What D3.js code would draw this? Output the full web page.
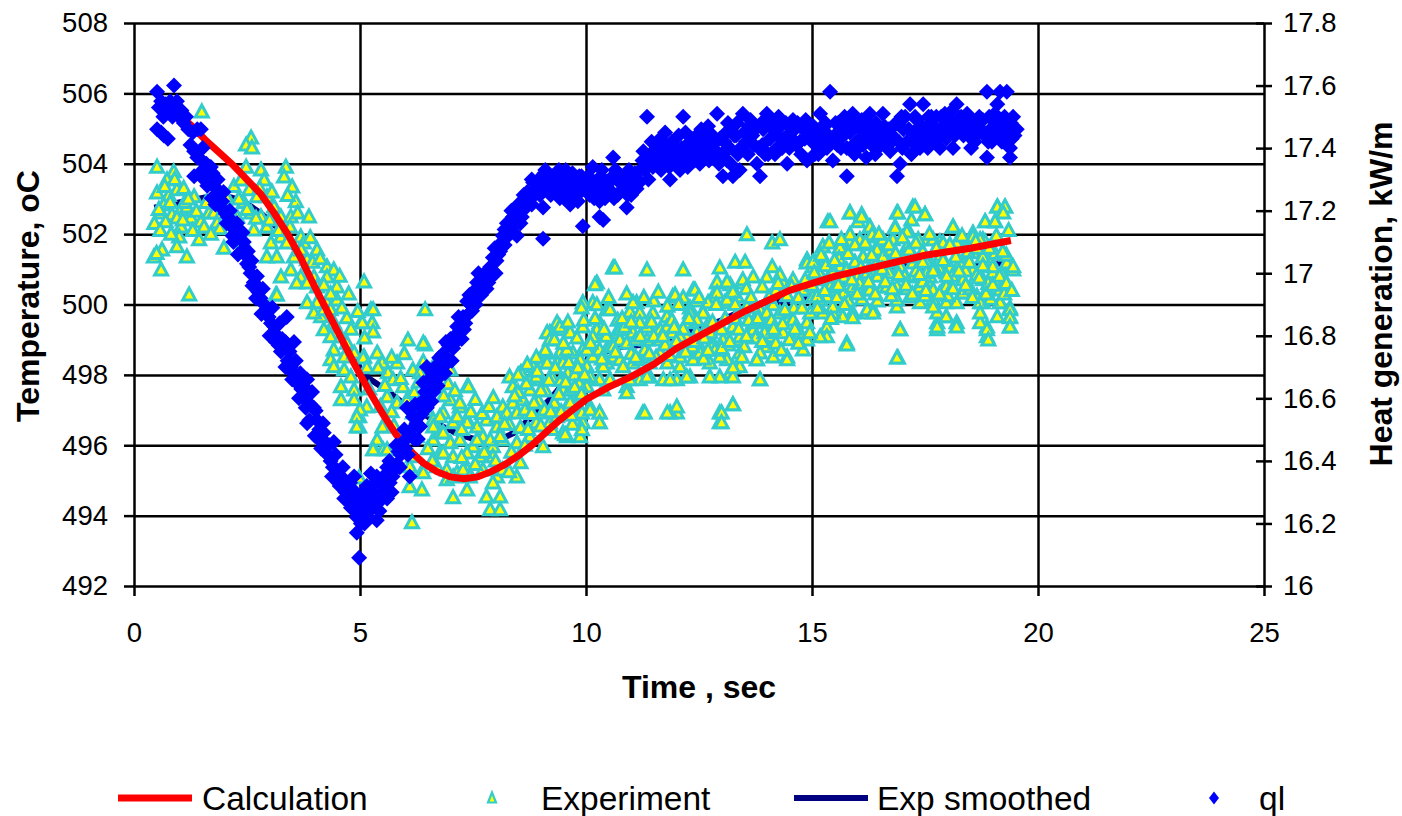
<!DOCTYPE html>
<html>
<head>
<meta charset="utf-8">
<script src="https://cdn.jsdelivr.net/npm/d3@7"></script>
<style>
  html, body { margin: 0; padding: 0; background: #fff; }
  svg { display: block; font-family: "Liberation Sans", Arial, sans-serif; }
</style>
</head>
<body>
<svg id="chart" width="1402" height="816"></svg>
<script>
// axis ticks
const timeTicks = [0, 5, 10, 15, 20, 25];
const tempTicks = [492, 494, 496, 498, 500, 502, 504, 506, 508];
const heatTicks = [16, 16.2, 16.4, 16.6, 16.8, 17, 17.2, 17.4, 17.6, 17.8];
const seriesNames = ["Calculation", "Experiment", "Exp smoothed", "ql"];

// Calculation: [time, temperature]
const calculation = [
  [1.0,505.4],[1.3,505.05],[1.6,504.65],[1.9,504.3],[2.2,503.95],[2.5,503.55],[2.8,503.15],
  [3.1,502.6],[3.4,502.0],[3.7,501.3],[4.0,500.5],[4.3,499.75],[4.6,499.0],[4.9,498.25],
  [5.2,497.55],[5.5,496.9],[5.8,496.3],[6.1,495.85],[6.4,495.5],[6.7,495.25],[7.0,495.1],
  [7.3,495.05],[7.6,495.1],[7.9,495.25],[8.2,495.45],[8.5,495.7],[8.8,496.0],[9.1,496.35],
  [9.4,496.7],[9.7,497.0],[10.0,497.3],[10.5,497.65],[11.0,497.95],[11.5,498.3],[12.0,498.75],
  [12.5,499.1],[13.0,499.45],[13.5,499.8],[14.0,500.1],[14.5,500.4],[15.0,500.6],[15.5,500.8],
  [16.0,500.95],[16.5,501.1],[17.0,501.25],[17.5,501.4],[18.0,501.5],[18.5,501.6],[19.0,501.72],
  [19.4,501.82]
];

// Exp smoothed: [time, temperature]
const expSmoothed = [
  [0.45,502.75],[0.8,502.85],[1.2,502.95],[1.6,503.05],[2.0,503.1],[2.4,502.95],[2.8,502.6],
  [3.2,502.15],[3.6,501.5],[4.0,500.5],[4.4,499.45],[4.8,498.5],[5.2,497.9],[5.6,497.55],
  [6.0,497.15],[6.4,496.9],[6.8,496.55],[7.2,496.3],[7.6,496.15],[8.0,496.1],[8.4,496.35],
  [8.8,496.8],[9.2,497.3],[9.6,497.9],[10.0,498.4],[10.4,498.65],[10.8,498.8],[11.2,498.85],
  [11.6,498.95],[12.0,499.1],[12.5,499.3],[13.0,499.55],[13.5,499.85],[14.0,500.1],[14.5,500.1],
  [15.0,500.2],[15.5,500.45],[16.0,500.75],[16.5,501.0],[17.0,501.15],[17.5,501.05],[18.0,500.95],
  [18.5,501.1],[19.0,501.15],[19.4,501.2]
];

// Experiment: [time, temperature]
const experiment = [
  [1.5,505.47],[0.51,503.9],[0.88,503.77],[0.73,503.54],[0.51,503.17],[0.77,503.1],[0.95,503.26],
  [1.1,503.3],[0.66,502.83],[0.6,502.6],[0.84,502.55],[1.04,502.69],[0.95,502.46],[1.17,502.77],
  [1.33,503.06],[1.26,502.46],[1.48,502.35],[1.66,502.6],[1.04,502.2],[1.0,501.92],[1.44,501.84],
  [0.62,501.55],[0.44,501.35],[0.95,501.64],[1.17,501.35],[0.6,500.98],[1.22,500.27],[1.99,501.6],
  [0.7,502.35],[0.55,502.7],[1.12,502.9],[0.8,502.9],[0.5,501.45],
  [2.59,504.73],[2.48,504.53],[2.61,504.45],[1.77,502.6],[1.6,502.9],[1.84,502.32],[2.21,503.35],
  [2.48,503.9],[2.37,503.54],[2.55,503.26],[2.81,503.82],[2.88,503.54],[3.36,503.9],[3.32,503.62],
  [3.5,503.34],[3.58,502.92],[2.72,503.06],[2.94,503.06],[2.59,502.6],[2.81,502.49],[2.43,502.9],
  [2.28,502.49],[2.21,502.32],[3.1,502.77],[3.25,502.49],[3.47,502.49],[3.87,502.49],[2.65,502.12],
  [2.94,502.2],[2.43,501.75],[3.03,501.75],[3.25,501.92],[3.38,501.75],[3.69,501.92],[3.76,501.75],
  [4.05,501.55],[2.94,501.35],[3.16,501.35],[3.54,501.35],[3.83,501.27],[4.27,501.07],[4.42,500.98],
  [3.47,500.98],[3.25,500.78],[3.69,500.78],[3.98,500.78],[4.27,500.78],[3.6,500.61],[3.83,500.61],
  [4.05,500.5],[4.49,500.5],[3.14,500.27],[3.83,500.05],[4.05,500.05],[4.27,500.05],[4.49,500.13],
  [5.09,500.64],[4.14,499.65],[4.42,499.48],[4.71,499.62],[5.02,499.48],[5.24,499.85],[4.2,499.28],
  [4.49,499.2],[2.05,503.05],[1.9,502.15],
  [3.98,499.76],[4.2,499.85],[4.35,499.85],[4.35,499.08],[4.58,499.08],[4.71,498.9],[4.42,498.71],
  [4.35,498.43],[4.42,498.23],[4.65,498.51],[4.87,498.62],[5.09,498.51],[4.65,498.14],[4.8,497.94],
  [4.58,497.66],[4.87,497.57],[4.58,497.29],[4.87,497.29],[5.15,497.09],[4.98,496.81],[4.98,496.52],
  [5.31,495.87],[4.98,495.07],
  [3.16,500.27],[5.29,499.85],[5.27,499.48],[5.29,499.22],[5.05,499.48],[6.44,499.85],[6.06,498.99],
  [6.44,498.85],[6.4,498.37],[5.07,498.48],[5.38,498.62],[5.49,498.34],[5.62,498.06],[5.82,498.34],
  [6.17,498.14],[6.33,498.06],[6.62,498.23],[7.0,498.14],[7.37,497.66],[7.0,497.29],[7.21,497.09],
  [5.73,497.86],[5.95,497.66],[5.6,497.38],[5.82,497.2],[6.04,497.29],[6.17,496.92],[6.48,497.0],
  [6.62,496.72],[6.84,496.92],[7.06,496.64],[7.37,496.72],[7.59,496.52],[7.8,496.72],[8.03,496.52],
  [5.0,497.0],[4.93,496.81],[4.93,496.52],[5.51,496.52],[5.38,496.15],[5.51,495.87],[5.29,495.87],
  [6.26,496.24],[6.62,496.15],[6.77,496.35],[7.0,496.07],[7.21,496.15],[7.5,495.96],[7.72,496.24],
  [7.94,495.96],[6.77,495.78],[7.06,495.67],[7.37,495.78],[7.65,495.67],[7.94,495.67],[6.17,495.67],
  [6.1,495.39],[6.37,495.24],[6.92,495.3],[7.15,495.22],[7.37,495.3],[6.92,495.02],[6.37,494.73],
  [7.06,494.51],[7.37,494.73],[6.15,493.8],
  [6.4,498.9],[7.4,497.66],[8.38,497.66],[8.76,497.86],[8.98,497.86],[9.2,499.2],[9.36,499.48],
  [9.49,499.28],[9.65,499.2],[9.14,498.62],[9.42,498.62],[9.71,498.62],[9.36,498.34],[9.93,498.71],
  [9.93,499.36],[10.15,500.05],[9.93,500.05],[10.46,499.85],[10.24,500.61],[10.6,501.04],[9.05,498.34],
  [8.9,497.94],[8.56,498.06],[8.76,497.57],[8.6,497.29],[8.38,497.2],[8.16,497.09],[8.03,496.81],
  [8.25,496.92],[8.47,496.92],[7.37,496.64],[7.15,496.81],[7.21,497.2],[6.77,496.81],[6.62,496.52],
  [6.84,496.35],[7.59,496.15],[7.88,496.15],[8.16,496.15],[8.47,496.07],[8.76,496.24],[9.05,495.96],
  [8.9,496.64],[9.2,496.64],[9.49,496.35],[9.05,496.92],[9.36,496.81],[9.58,497.09],[9.8,497.38],
  [9.49,497.57],[9.65,497.2],[9.87,496.92],[10.09,497.09],[10.3,496.92],[10.3,496.64],[9.93,496.64],
  [9.58,496.24],[9.87,496.24],[10.38,497.57],[10.53,497.86],[10.09,497.86],[10.38,498.34],[10.53,498.9],
  [10.68,499.2],[10.24,499.2],[10.3,499.48],[10.6,498.51],[10.15,498.51],[7.06,495.1],[7.28,495.3],
  [7.43,495.1],[7.72,495.3],[8.03,495.1],[8.16,495.3],[8.47,495.1],[7.94,494.93],[7.8,494.53],
  [8.1,494.53],[7.88,494.17],[8.1,494.17],[6.1,494.82],[6.7,495.39],[6.84,495.78],[6.4,495.22],
  [5.5,496.52],[5.6,495.87],[8.83,498.23],[8.31,497.94],
  [10.2,500.56],[10.24,499.99],[10.53,499.85],[11.12,500.05],[10.97,499.79],[11.19,499.76],[11.92,500.22],
  [12.37,500.41],[12.15,500.19],[12.3,499.9],[12.59,499.79],[12.9,500.61],[13.19,500.56],[13.47,500.61],
  [12.81,500.22],[13.07,500.05],[13.34,500.22],[13.56,499.93],[13.85,499.85],[14.14,499.99],[14.36,500.61],
  [14.45,499.56],[14.0,499.48],[13.63,499.2],[13.4,498.99],[13.12,499.08],[12.81,498.9],[12.52,498.8],
  [12.23,499.08],[11.92,499.2],[11.64,499.28],[11.35,499.36],[11.04,499.2],[10.75,498.99],[10.53,498.8],
  [10.24,499.28],[9.14,499.2],[9.42,499.36],[9.2,498.99],[9.58,498.71],[9.87,498.43],[9.14,498.34],
  [9.49,498.34],[10.02,498.71],[10.46,498.34],[10.75,498.43],[11.04,498.34],[11.41,498.34],[11.8,498.34],
  [12.08,498.23],[12.37,498.43],[12.74,498.34],[13.12,498.43],[13.4,498.23],[13.78,498.43],[14.14,498.51],
  [14.45,498.51],[13.85,497.86],[13.19,498.06],[12.96,497.94],[12.3,497.94],[12.01,497.86],[11.71,497.86],
  [11.41,497.94],[11.19,497.86],[10.9,497.66],[10.9,497.49],[10.3,497.86],[10.02,497.66],[9.65,497.57],
  [12.01,496.92],[11.86,496.92],[11.26,496.92],[12.96,496.92],[12.96,496.64],[13.25,497.15],[9.91,496.92],
  [9.91,496.44],[9.54,496.3],
  [13.56,501.98],[14.12,501.75],[14.29,501.84],[15.35,502.35],[15.84,502.6],[16.1,502.55],[16.02,502.35],
  [16.28,502.2],[16.88,502.6],[16.84,502.2],[17.23,502.77],[17.5,502.55],[17.2,502.4],[18.12,502.2],
  [18.83,502.35],[19.05,502.35],[19.1,502.77],[19.27,502.77],[18.56,502.03],[18.78,501.84],[16.35,501.92],
  [15.84,501.98],[15.84,501.78],[15.24,501.64],[15.62,501.61],[16.13,501.7],[16.5,501.78],[16.79,501.84],
  [17.12,502.12],[17.1,501.64],[17.54,501.84],[17.83,501.78],[18.27,501.75],[18.56,501.84],[18.83,501.78],
  [15.24,501.35],[14.89,501.2],[15.02,501.07],[15.62,501.07],[16.13,501.35],[16.5,501.55],[16.66,501.2],
  [16.28,500.98],[16.0,500.78],[15.7,500.78],[15.46,500.98],[16.95,501.07],[17.23,501.18],[17.61,501.18],
  [17.23,500.78],[17.61,500.78],[17.97,500.9],[18.34,501.18],[18.56,500.98],[18.94,501.27],[19.0,500.9],
  [19.38,501.07],[19.45,500.98],[19.16,500.7],[18.78,500.7],[18.34,500.7],[17.97,500.61],[16.88,500.5],
  [16.57,500.5],[16.22,500.41],[15.9,500.41],[15.7,500.33],[15.46,500.41],[15.33,500.22],[15.02,500.22],
  [17.32,500.41],[17.61,500.5],[17.68,500.13],[17.97,500.05],[18.2,500.05],[18.34,500.33],[18.65,500.22],
  [18.78,500.05],[19.16,500.05],[19.38,499.9],[19.38,499.65],[19.38,499.36],[19.1,499.65],[18.87,499.36],
  [18.87,499.08],[18.72,499.48],[18.2,499.48],[17.97,499.65],[17.77,499.48],[17.77,499.28],[17.39,500.05],
  [16.88,499.93],[16.35,499.85],[16.22,499.76],[16.95,499.28],[16.9,498.48],[15.9,499.76],[15.77,498.9],
  [15.68,499.65],[15.46,499.76],[15.18,500.13],[15.24,500.7],[15.11,500.22],[15.33,499.36],[15.33,499.08],
  [9.9,499.9],[9.95,499.55],[10.64,501.04],[11.35,500.98],[12.15,500.98],[12.96,501.04],[13.3,501.2],
  [13.52,501.2],[14.12,501.07],[14.89,501.27],[15.07,501.2],[11.97,500.27],[12.41,500.41],[12.9,500.64],
  [13.12,500.64],[13.47,500.7],[13.7,500.78],[14.0,500.78],[14.29,500.84],[14.58,500.7],[14.8,500.41],
  [11.04,500.05],[11.48,499.76],[11.79,499.65],[12.3,499.76],[12.59,499.76],[12.9,500.33],[13.12,500.13],
  [13.4,499.76],[13.7,499.93],[14.0,499.76],[14.29,499.76],[14.58,499.56],[14.89,499.48],[14.73,499.2],
  [14.36,499.2],[14.07,499.08],[13.7,499.28],[13.4,499.08],[13.03,498.99],[12.67,499.08],[12.45,499.2],
  [12.08,499.08],[11.64,498.99],[11.35,498.99],[10.9,498.9],[10.6,498.8],[10.3,498.71],[10.15,499.08],
  [10.75,499.28],[11.19,499.48],[11.79,499.36],[12.23,499.48],[12.67,499.36],[13.25,499.36],[13.7,499.48],
  [14.0,498.8],[13.85,498.62],[13.4,498.62],[12.96,498.51],[12.52,498.62],[12.08,498.51],[11.64,498.62],
  [11.19,498.43],[10.82,498.23],[10.38,498.23],[10.02,498.23],[10.09,497.94],[10.53,497.86],[10.97,497.86],
  [11.35,497.94],[11.86,497.86],[12.23,497.94],[12.74,497.94],[13.25,497.94],[13.85,497.86],[13.78,498.43],
  [14.45,498.43],[13.25,498.2],[12.01,497.09],[11.8,496.92],[11.3,496.92],[13.0,496.92],[13.0,496.64],
  [13.25,497.15],[10.09,497.0],[10.3,496.92],[10.3,496.64],
  [15.4,502.35],[15.84,502.6],[16.1,502.49],[16.9,502.6],[17.28,502.77],[17.5,502.55],[18.12,502.2],
  [18.83,502.35],[19.1,502.77],[19.27,502.77],[19.23,502.6],[19.05,502.35],[16.28,502.2],[15.24,501.64],
  [15.62,501.61],[15.84,501.98],[16.06,501.84],[16.33,501.98],[16.57,501.84],[16.84,502.17],[17.1,502.06],
  [17.35,501.84],[17.68,501.84],[17.9,501.75],[18.2,501.75],[18.56,501.92],[18.72,501.84],[14.89,501.18],
  [15.02,501.2],[15.46,500.9],[15.77,500.98],[16.13,501.35],[16.22,500.9],[16.44,501.55],[16.57,501.35],
  [16.95,501.07],[17.25,501.35],[17.54,501.18],[17.54,500.9],[17.83,500.98],[18.27,501.18],[18.56,501.47],
  [18.78,501.35],[19.0,501.07],[19.31,501.18],[19.45,501.07],[14.8,500.41],[15.11,500.22],[15.4,500.5],
  [15.7,500.33],[15.9,500.5],[16.28,500.41],[16.66,500.5],[16.88,500.13],[17.17,500.22],[17.39,500.5],
  [17.68,500.41],[17.97,500.5],[18.34,500.33],[18.65,500.22],[18.87,500.41],[19.16,500.41],[19.16,500.05],
  [19.38,499.85],[19.38,499.62],[19.38,499.36],[18.72,500.05],[18.72,499.76],[18.87,499.28],[18.9,498.99],
  [17.77,499.76],[17.97,499.65],[18.2,499.36],[17.77,499.36],[17.68,499.93],[16.95,499.28],[16.88,498.48],
  [15.77,498.85],[15.18,499.08],[14.89,498.99],[14.8,498.71],[15.46,499.93],[15.9,499.62],[16.22,499.85],
  [16.35,499.76],[14.96,499.76],[15.24,499.76],
  [8.5,497.5],[8.65,497.0],[8.8,496.9],[8.95,497.25],[9.1,497.55],[9.25,497.9],[9.3,497.2],[9.45,497.85],
  [9.6,498.05],[9.75,498.0],[9.85,497.75],[9.0,496.55],[9.25,496.45],[9.7,496.6],
  [10.45,499.1],[10.7,499.55],[10.85,499.35],[11.0,498.6],[11.1,499.0],[11.3,498.7],[11.5,499.1],[11.55,498.5],
  [11.75,498.85],[11.9,499.55],[12.0,498.95],[12.15,499.3],[12.35,498.8],[12.45,499.55],[12.6,498.45],[12.75,499.2],
  [12.85,498.7],[13.0,499.3],[13.15,498.85],[13.3,499.6],[13.5,498.8],[13.6,499.55],[13.75,499.05],[13.95,499.2],
  [14.1,499.55],[14.2,498.9],[14.35,499.45],[14.5,499.0],[14.6,499.9],[14.7,500.2],[14.45,500.25],[14.2,500.4],
  [13.9,500.5],[13.55,500.45],[13.25,500.35],[12.7,500.05],[12.45,500.1],[11.8,499.95],[11.5,500.1],
  [15.0,500.55],[15.15,500.9],[15.3,501.1],[15.55,500.6],[15.6,501.3],[15.95,501.2],[16.05,500.6],[16.4,501.1],
  [16.45,500.8],[16.7,500.9],[16.75,501.55],[17.05,500.8],[17.05,501.4],[17.3,500.95],[17.45,501.5],[17.45,500.65],
  [17.7,501.05],[17.85,501.4],[18.05,501.05],[18.1,500.8],[18.4,500.95],[18.45,501.5],[18.65,501.6],[18.65,500.85],
  [18.9,500.6],[19.05,501.45],[19.2,500.85],[19.3,501.4],[19.25,500.3],[18.95,500.15],[18.5,500.45],[18.0,500.25],
  [17.5,500.25],[17.1,500.45],[16.75,500.25],[16.45,500.1],[16.1,500.15],[15.8,500.1],[15.55,500.2],
  [8.3,496.6],[8.42,497.4],[8.55,496.5],[8.68,497.75],[8.72,496.45],[8.85,497.2],[8.92,498.1],[9.0,497.55],
  [9.08,497.0],[9.18,497.85],[9.22,496.95],[9.32,498.2],[9.4,497.45],[9.45,496.95],[9.55,497.8],[9.62,498.35],
  [9.68,496.85],[9.75,497.65],[9.82,498.2],[9.9,497.45],[9.97,498.0],[9.3,499.0],[9.5,498.9],[9.8,499.05],
  [9.6,499.5],[9.1,498.7],[8.9,498.5],[8.7,498.3],[8.5,498.0],
  [10.1,498.9],[10.2,499.6],[10.35,498.45],[10.4,499.3],[10.5,500.2],[10.65,498.65],[10.8,499.6],[10.9,500.3],
  [11.0,499.5],[11.1,498.5],[11.2,499.1],[11.28,500.2],[11.4,498.6],[11.45,499.5],[11.6,500.35],[11.7,499.1],
  [11.85,498.55],[11.95,499.35],[12.05,500.0],[12.2,498.65],[12.28,499.6],[12.4,498.95],[12.5,500.2],[12.62,499.05],
  [12.7,498.7],[12.8,499.5],[12.88,500.0],[13.0,498.75],[13.08,499.6],[13.18,498.95],[13.3,500.0],[13.38,499.3],
  [13.45,498.5],[13.55,499.1],[13.65,500.2],[13.8,499.6],[13.9,498.95],[14.05,500.2],[14.15,499.3],[14.25,500.6],
  [14.32,498.7],[14.4,499.85],[14.55,500.5],[14.62,499.3],[14.7,498.9],[14.78,499.9],[14.85,500.7],[14.95,499.2],
  [15.05,500.9],[15.12,499.9],[15.2,501.4],[15.28,500.4],[15.38,501.75],[15.42,499.6],[15.5,501.25],[15.58,500.55],
  [15.65,501.85],[15.72,500.0],[15.8,501.45],[15.88,500.7],[15.95,501.7],[16.0,500.3],[16.08,501.05],[16.18,501.75],
  [16.25,500.65],[16.32,501.4],[16.4,500.3],[16.48,502.0],[16.55,501.0],[16.62,500.65],[16.7,501.7],[16.78,500.45],
  [16.85,501.45],[16.92,500.85],[17.0,501.9],[17.08,500.55],[17.15,501.55],[17.22,500.3],[17.3,501.75],[17.38,500.85],
  [17.45,501.2],[17.52,500.4],[17.6,502.0],[17.68,500.95],[17.75,501.6],[17.82,500.3],[17.9,501.25],[17.98,500.8],
  [18.05,501.7],[18.12,500.45],[18.18,501.35],[18.25,500.95],[18.32,501.95],[18.4,500.55],[18.48,501.2],[18.55,500.2],
  [18.62,501.8],[18.7,500.75],[18.78,501.1],[18.85,500.3],[18.92,501.6],[19.0,500.55],[19.08,501.95],[19.15,500.8],
  [19.22,501.5],[19.3,500.6],[19.35,502.1],[19.42,500.4],
  [0.45,502.3],[0.58,502.1],[0.68,503.35],[0.82,502.0],[0.9,503.55],[1.08,502.4],[1.2,503.0],[1.3,502.1],
  [1.38,502.65],[1.55,502.2],[1.7,502.0],[1.95,502.6],[2.1,502.7],[2.32,503.0],[2.5,502.7],[2.7,502.45],
  [2.78,503.3],[3.0,502.4],[3.05,503.2],[3.2,502.1],[3.4,503.1],[3.45,502.2],[3.62,502.6],[3.7,501.55],
  [3.9,501.9],[3.95,501.2],[4.12,501.3],[4.2,500.55],[4.35,500.3],[4.55,500.8],[4.6,499.9],[4.75,500.3],
  [4.8,499.3],[4.95,499.8],[5.1,499.05],[5.15,498.2],[5.2,497.6],[5.4,498.2],[5.45,497.1],[5.55,497.7],
  [5.7,498.5],[5.9,497.9],[5.98,498.6],[6.2,497.5],[6.3,497.8],[6.5,497.55],[6.7,497.7],[6.85,497.4],
  [6.95,497.75],[7.1,497.55],[7.25,496.45],[7.45,496.95],[7.55,497.3],[7.7,496.9],[7.85,497.1],[7.95,497.35],
  [8.1,496.25],[8.2,496.6],[8.35,495.8],[8.55,495.5],[8.65,496.0],[7.25,495.65],[7.55,495.45],[7.75,495.8],
  [8.0,495.55],[8.3,495.25],[6.5,495.9],[6.6,495.55],[5.75,496.55],[5.9,496.2],[6.0,495.95],[5.7,496.95]
];

// ql (heat generation, right axis): [time, kW/m]
const ql = [
  [0.51,17.58],[0.55,17.53],[0.6,17.55],[0.65,17.5],[0.7,17.54],[0.75,17.52],[0.8,17.55],[0.85,17.5],
  [0.885,17.6],[0.9,17.53],[0.95,17.55],[1.0,17.5],[1.05,17.52],[1.1,17.48],[1.15,17.5],[0.51,17.46],
  [0.6,17.45],[0.66,17.44],[0.75,17.43],[1.2,17.46],[1.3,17.45],[1.4,17.46],[1.48,17.46],[1.25,17.41],
  [1.33,17.39],[1.4,17.37],[1.5,17.36],[1.6,17.35],[1.7,17.34],[1.33,17.31],[1.45,17.32],[1.55,17.3],
  [1.77,17.29],[1.85,17.3],[1.9,17.26],[2.0,17.2],[1.95,17.23],[2.08,17.18],[2.15,17.15],[2.25,17.13],
  [2.35,17.11],[2.43,17.1],[2.5,17.03],[2.45,17.06],[2.58,17.0],[2.65,16.97],[2.75,16.94],[2.88,16.9],
  [2.94,16.88],[3.03,16.84],[3.1,16.83],[3.17,16.8],[3.25,16.75],[3.38,16.86],[3.3,16.76],[3.4,16.72],
  [3.47,16.7],[3.54,16.78],[3.6,16.65],[3.7,16.63],[3.76,16.6],[3.83,16.66],[3.83,16.52],[3.9,16.58],
  [3.98,16.57],[4.05,16.53],[4.1,16.5],[4.14,16.44],[4.2,16.49],[4.28,16.42],[4.35,16.4],[4.42,16.46],
  [4.5,16.37],[4.58,16.35],[4.65,16.34],[4.65,16.28],[4.72,16.3],[4.8,16.25],[4.87,16.35],[4.85,16.28],
  [4.93,16.22],[4.93,16.17],[4.98,16.09],[5.0,16.28],[5.05,16.25],[5.1,16.2],[5.15,16.32],[5.2,16.27],
  [5.24,16.36],[5.3,16.3],[5.37,16.21],[5.4,16.27],[5.5,16.28],[5.45,16.33],[5.37,16.35],[5.55,16.31],
  [5.66,16.33],[5.75,16.37],[5.82,16.39],[5.9,16.42],[5.95,16.46],[6.04,16.57],[6.1,16.35],[6.1,16.48],
  [6.17,16.54],[6.25,16.52],[6.33,16.51],[6.4,16.65],[6.48,16.57],[6.48,16.7],[6.55,16.62],[6.62,16.62],
  [6.7,16.66],[6.78,16.68],[6.84,16.7],[6.92,16.73],[7.0,16.79],[7.06,16.76],[7.15,16.83],[7.22,16.82],
  [7.28,16.86],[7.37,16.91],[7.44,16.9],[7.5,16.94],[7.59,16.97],[7.65,16.95],[7.72,16.99],[7.8,16.95],
  [7.88,17.02],[7.94,17.05],[8.02,17.04],[8.1,17.07],[8.16,17.12],[8.25,17.16],[8.32,17.14],[8.38,17.18],
  [8.47,17.12],[8.52,17.19],[8.6,17.2],[8.7,17.26],[8.76,17.24],[8.83,17.29],[8.9,17.27],[8.98,17.25],
  [9.05,17.21],[9.05,17.11],[9.12,17.28],[9.2,17.3],[9.27,17.31],[9.36,17.27],[9.42,17.24],[9.5,17.3],
  [9.58,17.26],[9.65,17.22],[9.72,17.28],[9.8,17.3],[9.87,17.26],[9.93,17.15],[10.0,17.28],[10.08,17.25],
  [10.15,17.34],[10.22,17.28],[10.3,17.18],[10.3,17.23],[10.38,17.17],[10.45,17.27],[10.52,17.3],[10.6,17.37],
  [10.68,17.3],[10.75,17.26],[10.82,17.3],[10.9,17.21],[10.97,17.29],[11.05,17.3],[11.12,17.27],[11.2,17.33],
  [11.27,17.39],[11.35,17.5],[11.42,17.38],[11.5,17.36],[11.57,17.4],[11.64,17.43],[11.72,17.4],[11.8,17.37],
  [11.86,17.3],[11.93,17.36],[12.0,17.4],[12.08,17.33],[12.15,17.5],[12.22,17.39],[12.3,17.42],[12.37,17.4],
  [12.45,17.44],[12.52,17.35],[12.6,17.41],[12.67,17.44],[12.75,17.4],[12.81,17.37],[12.9,17.51],[12.96,17.43],
  [13.03,17.31],[13.1,17.45],[13.18,17.4],[13.25,17.31],[13.32,17.44],[13.4,17.33],[13.47,17.51],[13.54,17.42],
  [13.6,17.47],[13.68,17.44],[13.78,17.35],[13.85,17.31],[13.92,17.46],[14.0,17.51],[14.07,17.43],[14.14,17.46],
  [14.22,17.4],[14.3,17.47],[14.38,17.43],[14.45,17.35],[14.52,17.45],[14.58,17.49],[14.65,17.41],[14.73,17.42],
  [14.8,17.46],[14.89,17.36],[14.95,17.44],[15.03,17.47],[15.1,17.41],[15.18,17.51],[15.25,17.45],[15.33,17.4],
  [15.4,17.58],[15.46,17.36],[15.52,17.48],[15.6,17.44],[15.68,17.47],[15.77,17.31],[15.77,17.4],[15.84,17.45],
  [15.9,17.51],[15.98,17.42],[16.06,17.46],[16.13,17.41],[16.2,17.37],[16.28,17.51],[16.35,17.45],[16.42,17.48],
  [16.5,17.435],[16.57,17.51],[16.65,17.44],[16.73,17.39],[16.8,17.47],[16.88,17.31],[16.95,17.35],[17.02,17.46],
  [17.1,17.42],[17.17,17.54],[17.25,17.45],[17.32,17.49],[17.39,17.4],[17.46,17.54],[17.54,17.47],[17.61,17.44],
  [17.68,17.46],[17.75,17.5],[17.83,17.4],[17.9,17.47],[17.97,17.43],[18.05,17.49],[18.12,17.4],[18.2,17.54],
  [18.27,17.46],[18.35,17.44],[18.43,17.51],[18.5,17.47],[18.56,17.43],[18.63,17.45],[18.7,17.5],[18.78,17.49],
  [18.87,17.58],[18.87,17.37],[18.95,17.46],[19.02,17.44],[19.1,17.54],[19.16,17.58],[19.23,17.48],[19.31,17.58],
  [19.38,17.4],[19.38,17.37],[19.45,17.5],[19.53,17.46],[19.2,17.42],[19.0,17.5],
  [13.14,17.48],[13.36,17.38],[13.72,17.41],[14.03,17.38],[14.26,17.5],[14.62,17.46],[14.86,17.49],[15.06,17.38],
  [15.28,17.47],[15.56,17.41],[15.72,17.5],[15.94,17.38],[16.1,17.49],[16.32,17.41],[16.6,17.47],[16.76,17.42],
  [16.98,17.5],[17.2,17.38],[17.36,17.45],[17.58,17.5],[17.72,17.42],[17.94,17.51],[18.08,17.45],[18.3,17.5],
  [18.52,17.4],[18.66,17.48],[18.9,17.42],[19.06,17.48],[19.28,17.44],[19.42,17.43],[17.0,17.4],[16.4,17.38],
  [15.15,17.43],[14.4,17.42],[13.9,17.41],[13.28,17.44],[12.7,17.47],[12.2,17.45],[11.7,17.35],[11.3,17.33],
  [10.95,17.33],[10.7,17.25],[10.4,17.3],[10.1,17.3],[9.85,17.31],[9.6,17.3],[9.3,17.26],[9.0,17.3],
  [1.62,17.28],[1.72,17.24],[1.8,17.22],[2.05,17.16],[2.2,17.1],[2.3,17.06],[2.55,17.02],[2.7,16.92],
  [2.82,16.87],[3.0,16.8],[3.2,16.77],[3.35,16.7],[3.5,16.66],[3.65,16.6],[3.88,16.53],[4.0,16.48],
  [4.25,16.45],[4.4,16.38],[4.55,16.32],[4.75,16.27],[5.6,16.38],[5.7,16.3],[5.85,16.43],[6.0,16.44],
  [6.2,16.47],[6.3,16.58],[6.45,16.6],[6.6,16.68],[6.75,16.73],[6.9,16.78],[7.1,16.8],[7.3,16.82],
  [7.4,16.87],[7.55,16.92],[7.7,16.94],[7.85,16.98],[8.0,17.0],[8.2,17.09],[8.4,17.13],[8.55,17.16],
  [8.65,17.22],[8.8,17.22],[8.95,17.3],[9.1,17.33],[9.25,17.28],[9.4,17.33],[9.55,17.33],[9.7,17.32],
  [9.9,17.31],[10.05,17.31],[10.2,17.26],[10.35,17.33],[10.55,17.26],[10.65,17.33],[10.85,17.27],[11.0,17.25],
  [11.15,17.3],[11.25,17.36],[11.45,17.42],[11.55,17.35],[11.75,17.45],[11.9,17.42],[12.05,17.44],[12.25,17.34],
  [12.4,17.36],[12.55,17.46],[12.85,17.42],[13.0,17.38],[13.2,17.35],
  [1.52,17.4],[1.58,17.33],[1.66,17.31],[1.74,17.32],[1.82,17.27],[1.88,17.22],[1.98,17.26],[2.03,17.19],
  [2.12,17.2],[2.18,17.12],[2.28,17.16],[2.38,17.07],[2.4,17.13],[2.52,17.07],[2.6,17.04],[2.62,16.96],
  [2.72,16.99],[2.8,16.92],[2.85,16.95],[2.98,16.86],[3.06,16.89],[3.14,16.78],[3.22,16.84],[3.28,16.79],
  [3.35,16.78],[3.44,16.75],[3.52,16.68],[3.58,16.72],[3.68,16.68],[3.74,16.64],[3.8,16.57],[3.94,16.62],
  [4.02,16.56],[4.08,16.47],[4.18,16.52],[4.23,16.46],[4.32,16.45],[4.38,16.35],[4.46,16.42],[4.52,16.33],
  [4.62,16.38],[4.68,16.3],[4.78,16.33],[4.9,16.3],[4.95,16.25],[5.02,16.2],[5.08,16.3],[5.12,16.24],
  [5.18,16.22],[5.28,16.25],[5.33,16.33],[5.43,16.24],[5.52,16.35],[5.6,16.28],
  [5.65,16.4],[5.72,16.35],[5.8,16.45],[5.88,16.38],[5.98,16.5],[6.06,16.42],[6.14,16.5],[6.22,16.58],
  [6.28,16.47],[6.36,16.55],[6.44,16.62],[6.52,16.66],[6.58,16.59],[6.66,16.7],[6.72,16.64],[6.82,16.74],
  [6.88,16.68],[6.96,16.77],[7.03,16.72],[7.12,16.78],[7.18,16.86],[7.25,16.79],[7.33,16.84],[7.42,16.93],
  [7.48,16.88],[7.56,16.9],[7.62,17.0],[7.68,16.93],[7.76,17.0],[7.84,16.97],[7.92,17.01],[7.98,17.08],
  [8.06,17.06],[8.14,17.1],[8.2,17.14],[8.28,17.12],[8.35,17.2],[8.43,17.16],[8.5,17.22],[8.58,17.18],
  [8.62,17.25],[8.72,17.22],[8.8,17.3],[8.86,17.25],[8.94,17.27],[9.02,17.26],[9.08,17.32],[9.16,17.27],
  [9.22,17.25],[9.32,17.29],[9.45,17.27],[9.52,17.24],[9.62,17.28],[9.68,17.25],[9.76,17.27],[9.82,17.23],
  [9.96,17.3],[10.04,17.26],[10.12,17.29],[10.18,17.24],[10.26,17.3],[10.34,17.26],[10.42,17.24],[10.5,17.27],
  [10.58,17.3],[10.62,17.24],[10.72,17.32],[10.78,17.29],[10.88,17.3],[10.92,17.25],[11.02,17.28],[11.08,17.32],
  [11.18,17.29],[11.32,17.36],[11.38,17.3],[11.48,17.34],[11.6,17.37],[11.66,17.33],[11.78,17.4],[11.84,17.34],
  [11.96,17.38],[12.02,17.35],[12.12,17.4],[12.18,17.37],[12.28,17.39],[12.34,17.43],[12.42,17.38],[12.48,17.41],
  [12.58,17.38],[12.64,17.42],[12.72,17.36],[12.8,17.44],[12.88,17.39],[12.94,17.35],[13.06,17.42],[13.12,17.36],
  [13.2,17.46],[13.34,17.48],[13.42,17.4],[13.5,17.45],[13.58,17.38],[13.64,17.49],[13.74,17.46],[13.82,17.4],
  [13.88,17.48],[13.96,17.38],[14.1,17.48],[14.18,17.38],[14.24,17.44],[14.34,17.4],[14.42,17.48],[14.5,17.4],
  [14.56,17.43],[14.68,17.48],[14.76,17.38],[14.84,17.43],[14.92,17.48],[15.0,17.42],[15.08,17.46],[15.14,17.38],
  [15.22,17.42],[15.3,17.48],[15.37,17.44],[15.44,17.42],[15.5,17.44],[15.58,17.48],[15.64,17.4],[15.7,17.44],
  [15.8,17.48],[15.86,17.4],[15.96,17.48],[16.02,17.4],[16.08,17.43],[16.16,17.48],[16.24,17.44],[16.3,17.47],
  [16.38,17.42],[16.46,17.4],[16.54,17.45],[16.62,17.41],[16.7,17.46],[16.78,17.44],[16.86,17.48],[16.92,17.42],
  [17.06,17.5],[17.14,17.46],[17.22,17.42],[17.28,17.5],[17.34,17.42],[17.42,17.47],[17.5,17.43],[17.56,17.4],
  [17.64,17.5],[17.7,17.47],[17.8,17.45],[17.86,17.5],[17.92,17.44],[18.0,17.47],[18.1,17.52],[18.16,17.44],
  [18.24,17.48],[18.32,17.46],[18.4,17.47],[18.46,17.44],[18.54,17.48],[18.6,17.42],[18.68,17.45],[18.74,17.46],
  [18.82,17.44],[18.92,17.5],[18.98,17.42],[19.04,17.51],[19.12,17.47],[19.18,17.44],[19.26,17.5],[19.34,17.46],
  [19.4,17.48],[19.48,17.44]
];

const plotLeft = 134, plotRight = 1264, plotTop = 23, plotBottom = 586;
const svg = d3.select('#chart');

const x = d3.scaleLinear().domain([0, 25]).range([plotLeft, plotRight]);
const yTemp = d3.scaleLinear().domain([492, 508]).range([plotBottom, plotTop]);
const yHeat = d3.scaleLinear().domain([16, 17.8]).range([plotBottom, plotTop]);

// grid lines
svg.append('g')
  .attr('class', 'grid-h')
  .attr('transform', `translate(${plotLeft},0)`)
  .call(d3.axisLeft(yTemp).tickValues(tempTicks.slice(1)).tickSize(-(plotRight - plotLeft)).tickFormat(''))
  .call(g => g.select('.domain').remove());

svg.append('g')
  .attr('class', 'grid-v')
  .attr('transform', `translate(0,${plotBottom})`)
  .call(d3.axisBottom(x).tickValues(timeTicks.slice(1, -1)).tickSize(-(plotBottom - plotTop)).tickFormat(''))
  .call(g => g.select('.domain').remove());

svg.selectAll('.grid-h line, .grid-v line').attr('stroke', '#000').attr('stroke-width', 2.5);

// axes
const tickFont = '27.5px';

const xAxis = svg.append('g')
  .attr('transform', `translate(0,${plotBottom})`)
  .call(d3.axisBottom(x).tickValues(timeTicks).tickSize(10).tickSizeOuter(0).tickPadding(26));

const yAxis = svg.append('g')
  .attr('transform', `translate(${plotLeft},0)`)
  .call(d3.axisLeft(yTemp).tickValues(tempTicks).tickSize(10).tickSizeOuter(0).tickPadding(16));

const yAxis2 = svg.append('g')
  .attr('transform', `translate(${plotRight},0)`)
  .call(d3.axisRight(yHeat).tickValues(heatTicks).tickSize(8).tickSizeOuter(0).tickPadding(11)
    .tickFormat(d => String(+d.toFixed(1))));
yAxis2.selectAll('.tick line').attr('x1', -8);

[xAxis, yAxis, yAxis2].forEach(g => {
  g.attr('font-family', null).attr('font-size', null);
  g.select('.domain').attr('stroke', '#000').attr('stroke-width', 2.5);
  g.selectAll('.tick line').attr('stroke', '#000').attr('stroke-width', 2.5);
  g.selectAll('.tick text').attr('fill', '#000').style('font-size', tickFont);
});

// axis titles
svg.append('text')
  .attr('x', (plotLeft + plotRight) / 2)
  .attr('y', 698)
  .attr('text-anchor', 'middle')
  .style('font-size', '32px').style('font-weight', 'bold')
  .text('Time , sec');

svg.append('text')
  .attr('transform', 'translate(39,296) rotate(-90)')
  .attr('text-anchor', 'middle')
  .style('font-size', '32px').style('font-weight', 'bold')
  .text('Temperature, oC');

svg.append('text')
  .attr('transform', 'translate(1392,294) rotate(-90)')
  .attr('text-anchor', 'middle')
  .style('font-size', '32px').style('font-weight', 'bold')
  .text('Heat generation, kW/m');

// series: smoothed line under the triangles, calculation line above them, ql on top
const line = d3.line().x(d => x(d[0])).y(d => yTemp(d[1]));
const triangle = 'M0,-7L6.5,5L-6.5,5Z';
const diamond = 'M0,-8L8,0L0,8L-8,0Z';

svg.append('path')
  .datum(expSmoothed)
  .attr('d', line)
  .attr('fill', 'none')
  .attr('stroke', '#000080')
  .attr('stroke-width', 6);

svg.selectAll('.exp')
  .data(experiment)
  .join('path')
  .attr('class', 'exp')
  .attr('d', triangle)
  .attr('transform', d => `translate(${x(d[0])},${yTemp(d[1])})`)
  .attr('fill', '#ffff00')
  .attr('stroke', '#33cccc')
  .attr('stroke-width', 3);

svg.append('path')
  .datum(calculation)
  .attr('d', line)
  .attr('fill', 'none')
  .attr('stroke', '#ff0000')
  .attr('stroke-width', 7);

svg.selectAll('.ql')
  .data(ql)
  .join('path')
  .attr('class', 'ql')
  .attr('d', diamond)
  .attr('transform', d => `translate(${x(d[0])},${yHeat(d[1])})`)
  .attr('fill', '#0000ff');

// legend
const legendSymbolX = [118, 455, 794, 1177];
const legendTextX = [202, 541, 877, 1259];
const legendY = 798;
const legend = svg.append('g').attr('class', 'legend');

seriesNames.forEach((name, i) => {
  const sx = legendSymbolX[i];
  if (i === 0 || i === 2) {
    legend.append('line')
      .attr('x1', sx).attr('x2', sx + 74)
      .attr('y1', legendY).attr('y2', legendY)
      .attr('stroke', i === 0 ? '#ff0000' : '#000080')
      .attr('stroke-width', i === 0 ? 7 : 6);
  } else if (i === 1) {
    legend.append('path')
      .attr('d', 'M0,-5.5L4,4.5L-4,4.5Z')
      .attr('transform', `translate(${sx + 37},${legendY})`)
      .attr('fill', '#ffff00')
      .attr('stroke', '#33cccc')
      .attr('stroke-width', 2.2);
  } else {
    legend.append('path')
      .attr('d', 'M0,-6.5L5,0L0,6.5L-5,0Z')
      .attr('transform', `translate(${sx + 37},${legendY})`)
      .attr('fill', '#0000ff');
  }
  legend.append('text')
    .attr('x', legendTextX[i])
    .attr('y', legendY + 12)
    .style('font-size', '33.5px')
    .text(name);
});
</script>
</body>
</html>
